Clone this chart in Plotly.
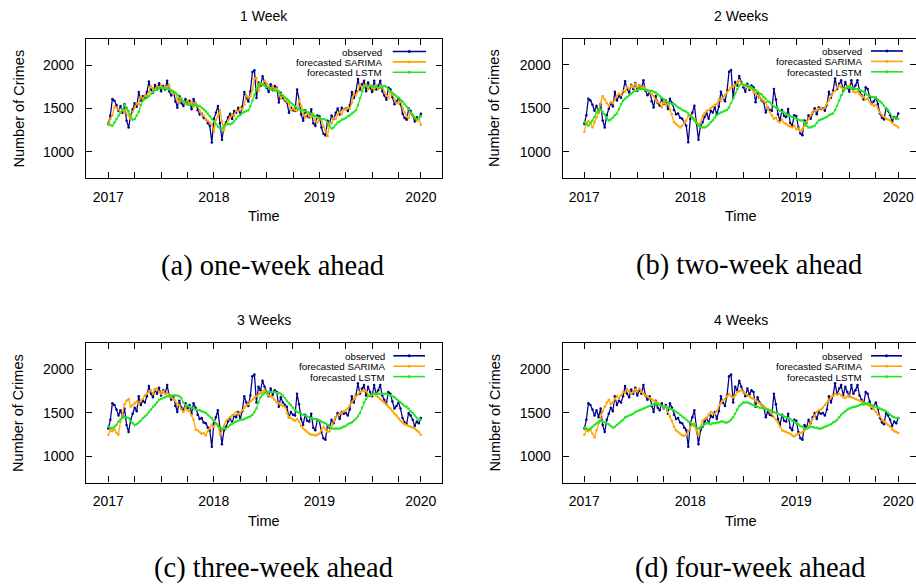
import plotly.graph_objects as go

# ---------------- data ----------------
YEAR_TICK_WEEKS = [0, 13, 26, 39, 52, 65, 78, 91, 104, 117, 130, 143, 154]
YEAR_TICK_TEXT = ["2017", "", "", "", "2018", "", "", "", "2019", "", "", "", "2020"]
Y_TICKS = [1000, 1500, 2000]
PANEL_TITLES = ["1 Week", "2 Weeks", "3 Weeks", "4 Weeks"]
CAPTIONS = ["(a) one-week ahead", "(b) two-week ahead", "(c) three-week ahead", "(d) four-week ahead"]
SERIES_NAMES = ["observed", "forecasted SARIMA", "forecasted LSTM"]

observed = [
    1320, 1420, 1610, 1590, 1540, 1470, 1530, 1450, 1550, 1360,
    1280, 1420, 1490, 1560, 1520, 1690, 1590, 1640, 1620, 1690,
    1810, 1720, 1680, 1770, 1720, 1790, 1700, 1760, 1720, 1820,
    1700, 1650, 1690, 1580, 1510, 1640, 1560, 1530, 1610, 1550,
    1590, 1490, 1610, 1560, 1480, 1430, 1440, 1390, 1380, 1330,
    1300, 1110, 1380, 1450, 1530, 1330, 1140, 1300, 1340, 1400,
    1440, 1380, 1470, 1450, 1510, 1430, 1520, 1690, 1620, 1580,
    1700, 1920, 1940, 1620, 1800, 1760, 1870, 1800, 1740, 1690,
    1780, 1710, 1760, 1740, 1570, 1680, 1620, 1590, 1570, 1450,
    1510, 1480, 1470, 1720, 1600, 1430, 1360, 1480, 1410, 1400,
    1490, 1330, 1300, 1420, 1410, 1280, 1210, 1190, 1360, 1330,
    1420, 1380, 1450, 1500, 1430, 1510, 1490, 1500, 1470, 1540,
    1690, 1620, 1700, 1840, 1720, 1780, 1820, 1700, 1800, 1740,
    1690, 1820, 1720, 1760, 1820, 1700, 1650, 1600, 1740, 1720,
    1630, 1550, 1580, 1620, 1550, 1440, 1390, 1370, 1500, 1470,
    1420, 1350, 1400, 1380, 1440,
]

sarima_1w = [
    1310, 1380, 1420, 1520, 1510, 1490, 1450, 1490, 1450, 1510,
    1420, 1380, 1460, 1510, 1560, 1550, 1640, 1610, 1650, 1640,
    1690, 1760, 1730, 1710, 1760, 1740, 1770, 1730, 1750, 1730,
    1770, 1700, 1670, 1680, 1610, 1570, 1620, 1580, 1560, 1590,
    1560, 1570, 1520, 1570, 1530, 1470, 1430, 1420, 1380, 1360,
    1340, 1320, 1230, 1370, 1420, 1480, 1350, 1250, 1320, 1360,
    1400, 1430, 1410, 1470, 1470, 1510, 1490, 1550, 1650, 1630,
    1640, 1720, 1840, 1850, 1700, 1790, 1770, 1820, 1790, 1760,
    1720, 1760, 1720, 1730, 1700, 1610, 1650, 1600, 1580, 1560,
    1480, 1500, 1480, 1470, 1600, 1530, 1440, 1390, 1450, 1410,
    1400, 1440, 1360, 1340, 1390, 1370, 1300, 1250, 1180, 1330,
    1330, 1390, 1380, 1430, 1460, 1430, 1490, 1490, 1510, 1500,
    1570, 1670, 1650, 1700, 1780, 1730, 1760, 1780, 1720, 1770,
    1740, 1710, 1770, 1720, 1740, 1760, 1690, 1650, 1620, 1680,
    1660, 1610, 1560, 1570, 1580, 1510, 1450, 1410, 1390, 1450,
    1430, 1400, 1360, 1380, 1310,
]

sarima_2w = [
    1230, 1340, 1350, 1330, 1280, 1340, 1390, 1450, 1560, 1640,
    1600, 1560, 1530, 1570, 1560, 1600, 1640, 1670, 1650, 1700,
    1690, 1740, 1720, 1760, 1740, 1780, 1740, 1760, 1730, 1750,
    1720, 1700, 1690, 1660, 1640, 1600, 1570, 1560, 1510, 1570,
    1540, 1560, 1480, 1430, 1340, 1320, 1300, 1280, 1300, 1330,
    1360, 1410, 1420, 1400, 1380, 1340, 1320, 1330, 1410, 1440,
    1470, 1480, 1500, 1520, 1540, 1550, 1600, 1580, 1620, 1650,
    1690, 1710, 1740, 1750, 1760, 1790, 1820, 1790, 1760, 1770,
    1740, 1730, 1720, 1690, 1670, 1650, 1620, 1600, 1580, 1570,
    1500, 1460, 1420, 1380, 1390, 1350, 1340, 1370, 1330, 1320,
    1300, 1290, 1280, 1300, 1260, 1270, 1240, 1260, 1300, 1340,
    1380, 1420, 1450, 1470, 1480, 1490, 1500, 1490, 1510, 1550,
    1590, 1640, 1680, 1700, 1740, 1760, 1740, 1720, 1730, 1750,
    1760, 1720, 1690, 1680, 1690, 1660, 1640, 1630, 1600, 1610,
    1570, 1550, 1530, 1540, 1490, 1450, 1420, 1400, 1380, 1370,
    1360, 1330, 1310, 1300, 1280,
]

sarima_3w = [
    1250, 1300, 1290, 1310, 1270, 1250, 1400, 1480, 1600, 1640,
    1660, 1570, 1590, 1610, 1630, 1600, 1640, 1660, 1700, 1720,
    1740, 1760, 1720, 1770, 1780, 1740, 1720, 1750, 1720, 1730,
    1700, 1680, 1660, 1640, 1600, 1590, 1540, 1510, 1560, 1530,
    1520, 1470, 1420, 1310, 1300, 1280, 1260, 1270, 1240, 1290,
    1320, 1360, 1340, 1380, 1370, 1250, 1300, 1350, 1410, 1430,
    1450, 1470, 1480, 1510, 1490, 1500, 1530, 1560, 1590, 1600,
    1630, 1650, 1680, 1690, 1710, 1730, 1740, 1760, 1720, 1700,
    1690, 1680, 1650, 1620, 1610, 1590, 1580, 1570, 1500, 1450,
    1440, 1420, 1410, 1430, 1400, 1350, 1320, 1300, 1280, 1260,
    1250, 1250, 1240, 1250, 1260, 1300, 1340, 1310, 1280, 1290,
    1350, 1410, 1450, 1470, 1490, 1500, 1520, 1530, 1550, 1590,
    1620, 1660, 1690, 1710, 1740, 1750, 1760, 1750, 1710, 1690,
    1710, 1720, 1700, 1680, 1660, 1640, 1620, 1600, 1570, 1550,
    1520, 1490, 1470, 1440, 1410, 1390, 1370, 1360, 1350, 1340,
    1330, 1320, 1300, 1280, 1250,
]

sarima_4w = [
    1250, 1300, 1290, 1310, 1260, 1220, 1300, 1380, 1440, 1520,
    1570, 1620, 1650, 1600, 1620, 1660, 1690, 1670, 1700, 1740,
    1730, 1770, 1750, 1720, 1740, 1770, 1750, 1780, 1740, 1720,
    1700, 1690, 1670, 1660, 1640, 1630, 1620, 1600, 1580, 1560,
    1570, 1510, 1460, 1410, 1340, 1300, 1280, 1260, 1240, 1240,
    1250, 1290, 1340, 1370, 1380, 1300, 1240, 1340, 1410, 1430,
    1440, 1480, 1510, 1500, 1490, 1520, 1580, 1610, 1640, 1660,
    1690, 1720, 1690, 1680, 1700, 1740, 1750, 1760, 1740, 1720,
    1700, 1690, 1670, 1660, 1640, 1620, 1610, 1590, 1570, 1560,
    1540, 1510, 1490, 1450, 1420, 1390, 1340, 1300, 1290, 1280,
    1270, 1260, 1240, 1230, 1250, 1260, 1270, 1280, 1300, 1320,
    1340, 1390, 1430, 1470, 1510, 1530, 1540, 1560, 1590, 1620,
    1650, 1680, 1700, 1720, 1710, 1720, 1700, 1680, 1670, 1690,
    1700, 1680, 1670, 1660, 1650, 1640, 1630, 1610, 1600, 1590,
    1580, 1570, 1540, 1510, 1480, 1460, 1420, 1400, 1380, 1360,
    1340, 1310, 1290, 1280, 1270,
]

lstm_1w = [
    1340, 1310, 1300, 1340, 1380, 1420, 1450, 1480, 1540, 1510,
    1470, 1420, 1370, 1380, 1420, 1460, 1540, 1590, 1610, 1620,
    1640, 1670, 1690, 1710, 1720, 1730, 1740, 1740, 1730, 1730,
    1720, 1710, 1700, 1680, 1660, 1620, 1600, 1580, 1560, 1550,
    1540, 1540, 1540, 1540, 1530, 1530, 1510, 1490, 1470, 1440,
    1410, 1380, 1350, 1320, 1290, 1270, 1270, 1300, 1320, 1320,
    1320, 1330, 1350, 1380, 1410, 1430, 1450, 1460, 1470, 1480,
    1530, 1590, 1660, 1730, 1780, 1790, 1780, 1760, 1750, 1740,
    1730, 1720, 1710, 1700, 1690, 1670, 1650, 1630, 1610, 1590,
    1560, 1540, 1520, 1500, 1490, 1480, 1480, 1470, 1460, 1450,
    1440, 1420, 1410, 1400, 1390, 1380, 1380, 1370, 1340, 1300,
    1270, 1280, 1310, 1340, 1350, 1370, 1380, 1390, 1410, 1420,
    1440, 1460, 1480, 1540, 1620, 1700, 1750, 1760, 1760, 1760,
    1760, 1750, 1750, 1740, 1740, 1750, 1760, 1750, 1720, 1700,
    1680, 1660, 1640, 1620, 1600, 1580, 1550, 1520, 1490, 1450,
    1420, 1390, 1380, 1390, 1410,
]

lstm_2w = [
    1340, 1320, 1300, 1330, 1360, 1400, 1450, 1490, 1480, 1460,
    1430, 1390, 1360, 1370, 1390, 1420, 1440, 1490, 1550, 1590,
    1610, 1630, 1650, 1670, 1690, 1700, 1710, 1720, 1720, 1720,
    1710, 1710, 1700, 1700, 1690, 1680, 1660, 1640, 1620, 1600,
    1580, 1570, 1560, 1550, 1550, 1530, 1510, 1500, 1480, 1470,
    1460, 1440, 1410, 1390, 1360, 1330, 1300, 1290, 1280, 1280,
    1290, 1310, 1340, 1360, 1390, 1420, 1440, 1450, 1460, 1470,
    1480, 1510, 1560, 1610, 1670, 1720, 1760, 1780, 1770, 1760,
    1760, 1750, 1740, 1720, 1710, 1690, 1670, 1660, 1630, 1610,
    1580, 1570, 1540, 1520, 1510, 1490, 1470, 1460, 1450, 1430,
    1420, 1410, 1400, 1390, 1380, 1370, 1360, 1360, 1340, 1300,
    1280, 1280, 1290, 1300, 1330, 1360, 1370, 1380, 1390, 1400,
    1420, 1430, 1440, 1480, 1530, 1590, 1650, 1690, 1720, 1740,
    1740, 1730, 1730, 1720, 1720, 1710, 1700, 1690, 1670, 1650,
    1640, 1630, 1630, 1620, 1600, 1580, 1560, 1530, 1500, 1480,
    1440, 1400, 1390, 1380, 1380,
]

lstm_3w = [
    1340, 1330, 1320, 1340, 1360, 1400, 1430, 1450, 1450, 1450,
    1440, 1410, 1380, 1360, 1370, 1390, 1410, 1440, 1460, 1480,
    1510, 1540, 1570, 1590, 1620, 1650, 1660, 1670, 1680, 1690,
    1690, 1700, 1700, 1700, 1700, 1690, 1670, 1620, 1590, 1580,
    1570, 1560, 1550, 1540, 1530, 1530, 1520, 1510, 1500, 1480,
    1460, 1440, 1410, 1380, 1350, 1330, 1320, 1320, 1320, 1340,
    1360, 1380, 1390, 1400, 1410, 1420, 1420, 1430, 1440, 1450,
    1460, 1480, 1510, 1550, 1620, 1680, 1710, 1730, 1740, 1740,
    1740, 1740, 1740, 1730, 1730, 1720, 1700, 1670, 1640, 1610,
    1590, 1560, 1530, 1510, 1500, 1490, 1480, 1470, 1460, 1450,
    1440, 1430, 1430, 1420, 1410, 1400, 1390, 1380, 1360, 1340,
    1320, 1320, 1320, 1320, 1320, 1330, 1340, 1350, 1370, 1380,
    1390, 1410, 1430, 1460, 1500, 1560, 1620, 1660, 1690, 1700,
    1710, 1720, 1720, 1720, 1720, 1720, 1720, 1720, 1710, 1700,
    1690, 1680, 1660, 1640, 1620, 1600, 1580, 1570, 1550, 1520,
    1500, 1470, 1440, 1420, 1420,
]

lstm_4w = [
    1330, 1320, 1310, 1320, 1340, 1360, 1380, 1400, 1410, 1400,
    1390, 1380, 1370, 1350, 1330, 1340, 1360, 1380, 1400, 1420,
    1450, 1460, 1470, 1480, 1490, 1510, 1520, 1530, 1540, 1550,
    1560, 1570, 1580, 1590, 1600, 1610, 1600, 1590, 1580, 1570,
    1570, 1560, 1550, 1540, 1530, 1510, 1500, 1480, 1460, 1440,
    1420, 1400, 1390, 1370, 1350, 1330, 1320, 1330, 1350, 1370,
    1380, 1380, 1370, 1380, 1380, 1390, 1390, 1400, 1400, 1390,
    1390, 1400, 1420, 1450, 1490, 1540, 1580, 1600, 1620, 1620,
    1620, 1610, 1600, 1590, 1580, 1570, 1560, 1560, 1550, 1540,
    1540, 1530, 1520, 1510, 1500, 1490, 1480, 1470, 1460, 1450,
    1440, 1430, 1410, 1400, 1380, 1370, 1350, 1340, 1320, 1320,
    1330, 1340, 1340, 1330, 1330, 1320, 1320, 1330, 1340, 1350,
    1360, 1370, 1390, 1400, 1420, 1450, 1480, 1500, 1520, 1540,
    1550, 1560, 1570, 1570, 1580, 1590, 1600, 1600, 1610, 1610,
    1600, 1590, 1580, 1570, 1560, 1550, 1540, 1530, 1520, 1500,
    1480, 1460, 1450, 1440, 1440,
]

SARIMA = [sarima_1w, sarima_2w, sarima_3w, sarima_4w]
LSTM = [lstm_1w, lstm_2w, lstm_3w, lstm_4w]

# ---------------- styling / layout ----------------
W, H = 916, 586
C_OBS = "#00008b"
C_SAR = "#ffa500"
C_LSTM = "#22e622"
COLORS = [C_OBS, C_SAR, C_LSTM]
SANS = "Liberation Sans, Arial, sans-serif"
SERIF = "Liberation Serif, Times New Roman, serif"

# panel boxes in pixels: left, top, right(visible), bottom, full-right (for centering)
PANELS = [
    (86.0, 39.0, 442.0, 178.0, 442.0),
    (562.7, 38.5, 916.0, 178.0, 918.7),
    (86.0, 343.3, 441.5, 482.5, 441.5),
    (562.7, 343.3, 916.0, 482.5, 918.7),
]
XRANGES = [[-11, 164.4], [-10.6, 162.7], [-11, 164.2], [-10.6, 162.7]]
LEGEND_TEXT_RIGHT = [383.3, 863.0, 386.0, 863.0]
LEGEND_SAMPLE = [(392.7, 426.0), (871.0, 903.0), (393.3, 425.0), (871.0, 902.0)]
CAPTION_POS = [(272, 266), (749, 265), (273, 568), (750, 568)]


def px(x):
    return x / W


def py(y):
    return 1 - y / H


fig = go.Figure()
layout = dict(
    width=W, height=H, margin=dict(l=0, r=0, t=0, b=0),
    paper_bgcolor="white", plot_bgcolor="white", showlegend=False,
    font=dict(family=SANS, size=14, color="black"),
)
annotations = []
shapes = []

for i in range(4):
    sfx = "" if i == 0 else str(i + 1)
    L, T, R, B, RF = PANELS[i]
    weeks = list(range(len(observed)))
    for name, ys, col in zip(SERIES_NAMES, [observed, SARIMA[i], LSTM[i]], COLORS):
        fig.add_trace(go.Scatter(
            x=weeks, y=ys, name=name, mode="lines+markers",
            line=dict(color=col, width=1.25),
            marker=dict(color=col, size=2.5),
            xaxis="x" + sfx, yaxis="y" + sfx, cliponaxis=True,
        ))
    layout["xaxis" + sfx] = dict(
        domain=[px(L), px(R)], range=XRANGES[i], anchor="y" + sfx,
        tickmode="array", tickvals=YEAR_TICK_WEEKS, ticktext=YEAR_TICK_TEXT,
        ticks="inside", ticklen=6, tickwidth=1, tickcolor="black",
        showline=True, linecolor="black", linewidth=1.2, mirror="ticks",
        showgrid=False, zeroline=False, ticklabelstandoff=6,
        tickfont=dict(family=SANS, size=14, color="black"),
    )
    layout["yaxis" + sfx] = dict(
        domain=[py(B), py(T)], range=[700, 2300], anchor="x" + sfx,
        tickmode="array", tickvals=Y_TICKS,
        ticks="inside", ticklen=6, tickwidth=1, tickcolor="black",
        showline=True, linecolor="black", linewidth=1.2, mirror="ticks",
        showgrid=False, zeroline=False, ticklabelstandoff=8,
        tickfont=dict(family=SANS, size=14, color="black"),
    )
    cx = (L + RF) / 2
    cy = (T + B) / 2
    # panel title
    annotations.append(dict(text=PANEL_TITLES[i], x=px(cx), y=py(T - 23), xref="paper", yref="paper",
                            showarrow=False, xanchor="center", yanchor="middle",
                            font=dict(family=SANS, size=14)))
    # axis titles
    annotations.append(dict(text="Time", x=px(cx), y=py(B + 38), xref="paper", yref="paper",
                            showarrow=False, xanchor="center", yanchor="middle",
                            font=dict(family=SANS, size=14.5)))
    annotations.append(dict(text="Number of Crimes", x=px(L - 68), y=py(cy), xref="paper", yref="paper",
                            showarrow=False, xanchor="center", yanchor="middle", textangle=-90,
                            font=dict(family=SANS, size=14.5)))
    # caption
    ccx, ccy = CAPTION_POS[i]
    annotations.append(dict(text=CAPTIONS[i], x=px(ccx), y=py(ccy), xref="paper", yref="paper",
                            showarrow=False, xanchor="center", yanchor="middle",
                            font=dict(family=SERIF, size=28.5)))
    # legend (gnuplot style: text then sample on the right)
    for k, (name, col) in enumerate(zip(SERIES_NAMES, COLORS)):
        ry = T + 12.5 + 10.4 * k
        annotations.append(dict(text=name, x=px(LEGEND_TEXT_RIGHT[i]), y=py(ry), xref="paper", yref="paper",
                                showarrow=False, xanchor="right", yanchor="middle",
                                height=10, valign="middle", borderpad=0,
                                font=dict(family=SANS, size=9.8)))
        x0, x1 = LEGEND_SAMPLE[i]
        shapes.append(dict(type="line", xref="paper", yref="paper",
                           x0=px(x0), x1=px(x1), y0=py(ry), y1=py(ry),
                           line=dict(color=col, width=1.6)))
        xm = (x0 + x1) / 2
        shapes.append(dict(type="circle", xref="paper", yref="paper",
                           x0=px(xm - 1.2), x1=px(xm + 1.2), y0=py(ry - 1.2), y1=py(ry + 1.2),
                           line=dict(color=col, width=0.5), fillcolor=col))

layout["annotations"] = annotations
layout["shapes"] = shapes
fig.update_layout(**layout)
fig.write_html("out.html")
